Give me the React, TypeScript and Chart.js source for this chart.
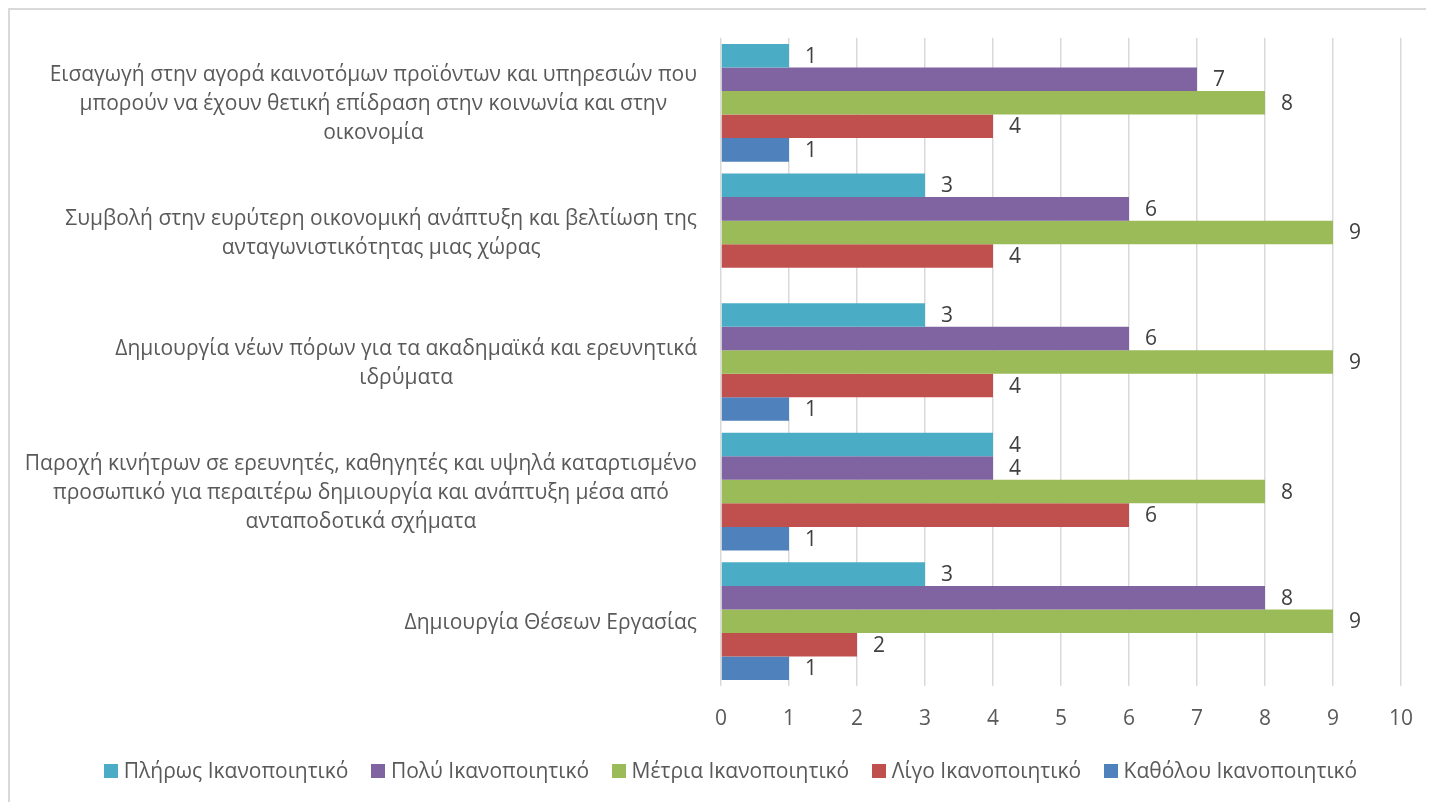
import React, { useEffect, useRef } from "react";
import { Chart, registerables } from "chart.js";

Chart.register(...registerables);

const categoryLines: string[][] = [
  [
    "Εισαγωγή στην αγορά καινοτόμων προϊόντων και υπηρεσιών που",
    "μπορούν να έχουν θετική επίδραση στην κοινωνία και στην",
    "οικονομία",
  ],
  [
    "Συμβολή στην ευρύτερη οικονομική ανάπτυξη και βελτίωση της",
    "ανταγωνιστικότητας μιας χώρας",
  ],
  ["Δημιουργία νέων πόρων για τα ακαδημαϊκά και ερευνητικά", "ιδρύματα"],
  [
    "Παροχή κινήτρων σε ερευνητές, καθηγητές και υψηλά καταρτισμένο",
    "προσωπικό για περαιτέρω δημιουργία και ανάπτυξη μέσα από",
    "ανταποδοτικά σχήματα",
  ],
  ["Δημιουργία Θέσεων Εργασίας"],
];

const seriesNames = [
  "Πλήρως Ικανοποιητικό",
  "Πολύ Ικανοποιητικό",
  "Μέτρια Ικανοποιητικό",
  "Λίγο Ικανοποιητικό",
  "Καθόλου Ικανοποιητικό",
];

const plirosValues: (number | null)[] = [1, 3, 3, 4, 3];
const polyValues: (number | null)[] = [7, 6, 6, 4, 8];
const metriaValues: (number | null)[] = [8, 9, 9, 8, 9];
const ligoValues: (number | null)[] = [4, 4, 4, 6, 2];
const katholouValues: (number | null)[] = [1, null, 1, 1, 1];

const seriesColors = ["#4BACC6", "#8064A2", "#9BBB59", "#C0504D", "#4F81BD"];

const xMin = 0;
const xMax = 10;
const xStep = 1;

const FONT_FAMILY = "'Open Sans', 'Noto Sans', sans-serif";
const FONT_SIZE = 21;
const TEXT_COLOR = "#595959";
const LABEL_COLOR = "#404040";

export default function App() {
  const canvasRef = useRef<HTMLCanvasElement | null>(null);

  useEffect(() => {
    document.documentElement.style.overflow = "hidden";
    document.body.style.overflow = "hidden";
    const canvas = canvasRef.current;
    if (!canvas) return;
    const allValues = [plirosValues, polyValues, metriaValues, ligoValues, katholouValues];

    const yLabelPlugin = {
      id: "yLabels",
      afterDraw(chart: any) {
        const ctx = chart.ctx;
        const yScale = chart.scales.y;
        ctx.save();
        ctx.font = `${FONT_SIZE}px ${FONT_FAMILY}`;
        ctx.fillStyle = TEXT_COLOR;
        ctx.textAlign = "center";
        ctx.textBaseline = "middle";
        const right = yScale.right - 24;
        const lineH = 29;
        categoryLines.forEach((lines, i) => {
          const cy = yScale.getPixelForValue(i) + 1.5;
          let maxW = 0;
          lines.forEach((l) => {
            maxW = Math.max(maxW, ctx.measureText(l).width);
          });
          const cx = right - maxW / 2;
          const startY = cy - ((lines.length - 1) * lineH) / 2;
          lines.forEach((l, j) => {
            ctx.fillText(l, cx, startY + j * lineH);
          });
        });
        ctx.restore();
      },
    };

    const dataLabelPlugin = {
      id: "dataLabels",
      afterDatasetsDraw(chart: any) {
        const ctx = chart.ctx;
        ctx.save();
        ctx.font = `${FONT_SIZE}px ${FONT_FAMILY}`;
        ctx.fillStyle = LABEL_COLOR;
        ctx.textAlign = "left";
        ctx.textBaseline = "middle";
        chart.data.datasets.forEach((ds: any, di: number) => {
          const meta = chart.getDatasetMeta(di);
          meta.data.forEach((el: any, i: number) => {
            const v = ds.data[i];
            if (v === null || v === undefined) return;
            ctx.fillText(String(v), el.x + 16, el.y + 1);
          });
        });
        ctx.restore();
      },
    };

    const legendPlugin = {
      id: "customLegend",
      afterDraw(chart: any) {
        const ctx = chart.ctx;
        ctx.save();
        ctx.font = `${FONT_SIZE}px ${FONT_FAMILY}`;
        ctx.textBaseline = "middle";
        ctx.textAlign = "left";
        const box = 14;
        const boxGap = 6;
        const itemGap = 22.5;
        const widths = seriesNames.map((n) => box + boxGap + ctx.measureText(n).width);
        const total = widths.reduce((a, b) => a + b, 0) + itemGap * (seriesNames.length - 1);
        let x = 720.5 - total / 2;
        const y = 761;
        seriesNames.forEach((n, i) => {
          ctx.fillStyle = seriesColors[i];
          ctx.fillRect(Math.round(x), y - box / 2, box, box);
          ctx.fillStyle = TEXT_COLOR;
          ctx.fillText(n, x + box + boxGap, y + 1);
          x += widths[i] + itemGap;
        });
        ctx.restore();
      },
    };

    const chart = new Chart(canvas, {
      type: "bar",
      data: {
        labels: categoryLines.map((l) => l.join(" ")),
        datasets: seriesNames.map((name, i) => ({
          label: name,
          data: allValues[i],
          backgroundColor: seriesColors[i],
          borderWidth: 0,
          categoryPercentage: 0.908,
          barPercentage: 1,
        })),
      },
      options: {
        indexAxis: "y",
        responsive: false,
        animation: false,
        layout: { padding: { top: 28, right: 41, bottom: 56, left: 0 } },
        plugins: {
          legend: { display: false },
          tooltip: { enabled: false },
          title: { display: false },
        },
        scales: {
          x: {
            min: xMin,
            max: xMax,
            ticks: {
              stepSize: xStep,
              color: TEXT_COLOR,
              font: { family: FONT_FAMILY, size: FONT_SIZE },
              padding: 20,
            },
            grid: { color: "#d9d9d9", lineWidth: 1.5, drawTicks: false },
            border: { display: false },
            afterFit(scale: any) {
              scale.height = 60;
            },
          },
          y: {
            ticks: { display: false },
            grid: { display: false, drawTicks: false },
            border: { display: false },
            afterFit(scale: any) {
              scale.width = 711;
            },
          },
        },
      },
      plugins: [yLabelPlugin, dataLabelPlugin, legendPlugin],
    } as any);

    return () => {
      chart.destroy();
    };
  }, []);

  return (
    <div
      style={{
        position: "relative",
        width: 1434,
        height: 794,
        overflow: "hidden",
        borderTop: "2px solid #d9d9d9",
        borderLeft: "2px solid #d9d9d9",
        boxSizing: "border-box",
        background: "#ffffff",
      }}
    >
      <canvas ref={canvasRef} width={1432} height={792} style={{ display: "block" }} />
    </div>
  );
}
